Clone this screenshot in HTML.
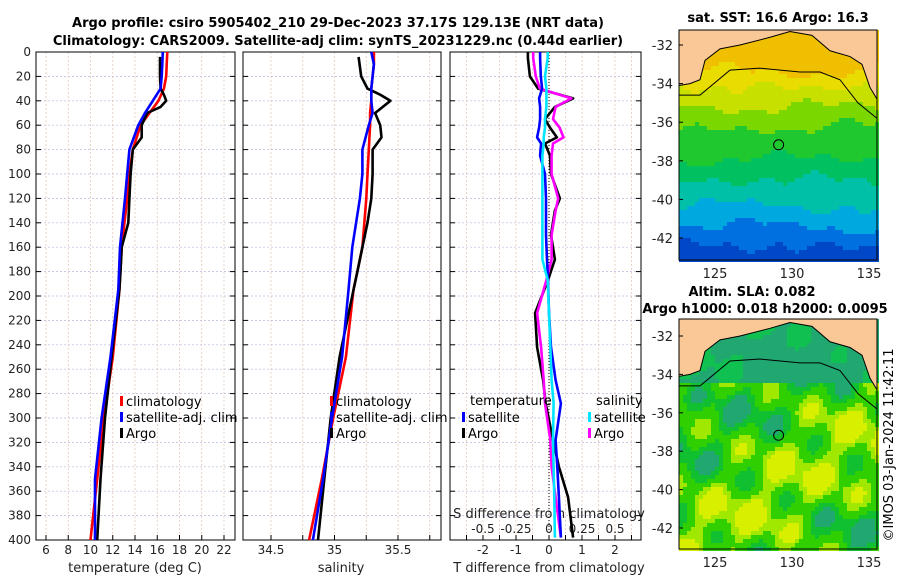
<!DOCTYPE html>
<html><head><meta charset="utf-8"><style>
body{margin:0;background:#fff;}
svg{font-family:"DejaVu Sans","Liberation Sans",sans-serif;}
</style></head><body>
<svg id="fig" width="900" height="580" viewBox="0 0 900 580">
<g id="titles" font-weight="bold" font-size="13" text-anchor="middle" fill="#000">
<text x="338" y="27">Argo profile: csiro 5905402_210 29-Dec-2023 37.17S 129.13E (NRT data)</text>
<text x="338" y="45">Climatology: CARS2009. Satellite-adj clim: synTS_20231229.nc (0.44d earlier)</text>
<text x="778" y="22">sat. SST: 16.6 Argo: 16.3</text>
<text x="752" y="296">Altim. SLA: 0.082</text>
<text x="765" y="313">Argo h1000: 0.018 h2000: 0.0095</text>
</g>
<g id="panels"></g>
<g id="maps"></g>
<text transform="translate(893,445) rotate(-90)" text-anchor="middle" font-size="13">©IMOS 03-Jan-2024 11:42:11</text>
</svg>
<script>
// ---------- data ----------
const tDepth   = [0,10,20,30,40,50,60,80,100,120,160,195,250,300,350,400];
const tClim    = [16.9,16.85,16.8,16.6,16.1,15.3,14.5,13.8,13.5,13.3,12.8,12.6,12.0,11.2,10.6,10.0];
const tSat     = [16.5,16.45,16.4,16.3,15.6,14.9,14.3,13.5,13.3,13.1,12.65,12.5,11.8,11.0,10.4,10.4];
const argoDepth= [4,20,30,35,40,45,50,60,70,80,100,120,140,160,180,195,250,300,350,400];
const tArgo    = [16.25,16.25,16.3,16.6,16.8,16.3,15.1,14.6,14.6,13.8,13.6,13.5,13.4,12.8,12.7,12.6,11.9,11.3,10.9,10.6];
const sClim    = [35.31,35.31,35.30,35.29,35.29,35.28,35.28,35.27,35.26,35.25,35.22,35.15,35.09,34.99,34.90,34.80];
const sSat     = [35.29,35.31,35.30,35.29,35.29,35.30,35.27,35.22,35.22,35.20,35.14,35.11,35.06,34.98,34.91,34.83];
const sArgo    = [35.19,35.21,35.26,35.36,35.44,35.38,35.32,35.36,35.37,35.30,35.30,35.29,35.26,35.22,35.18,35.15,35.04,34.97,34.92,34.87];
const dDepth   = [0,5,20,30,38,45,55,62,70,75,85,100,120,130,150,170,187,214,242,269,288,318,340,365,398];
const dTArgo   = [-0.64,-0.64,-0.58,-0.33,0.73,0.18,-0.12,0.03,0.24,-0.12,0.03,0.06,0.33,0.18,0.06,0.18,-0.03,-0.42,-0.36,-0.18,-0.10,0.12,0.30,0.58,0.73];
const dTSat    = [-0.27,-0.27,-0.25,-0.21,-0.30,-0.27,-0.27,-0.30,-0.36,-0.24,-0.27,-0.12,-0.09,-0.09,-0.09,-0.06,-0.03,0.0,0.06,0.20,0.36,0.20,0.25,0.30,0.36];
const dSArgo   = [-0.12,-0.12,-0.10,-0.07,0.17,0.05,0.03,0.08,0.11,0.03,0.02,0.02,0.07,0.05,0.02,0.02,-0.02,-0.09,-0.06,-0.04,-0.03,0.01,0.02,0.05,0.09];
const dSSat    = [-0.01,-0.01,-0.03,-0.02,-0.02,-0.02,-0.03,-0.03,-0.04,-0.04,-0.05,-0.05,-0.05,-0.05,-0.05,-0.05,-0.01,0.0,0.01,0.02,0.035,0.03,0.035,0.04,0.045];
const depthTicks = [0,20,40,60,80,100,120,140,160,180,200,220,240,260,280,300,320,340,360,380,400];
const tTicks = [6,8,10,12,14,16,18,20,22];
const sTicks = [34.5,35,35.5];
const dTTicks = [-2,-1,0,1,2];
const dSTicks = [-0.5,-0.25,0,0.25,0.5];
const latTicks = [-32,-34,-36,-38,-40,-42];
const lonTicks = [125,130,135];

const NS="http://www.w3.org/2000/svg";
function mk(tag,attrs,parent){const e=document.createElementNS(NS,tag);for(const k in attrs)e.setAttribute(k,attrs[k]);parent.appendChild(e);return e;}
const P=document.getElementById('panels');
const yD=d=>52+d*1.22;
const xT=v=>46+(v-6)*11.125;
const xS=v=>271+(v-34.5)*127;
const xDT=v=>549+v*33;
const xDS=v=>549+v*132;
const panels=[[36,235],[243,441],[450,641]];

panels.forEach((p,i)=>{
  const g=mk('g',{},P);
  
  
  depthTicks.forEach(d=>{
    const l=mk('line',{x1:p[0],x2:p[1],y1:yD(d),y2:yD(d),stroke:'#b8b8e0','stroke-width':0.7,'stroke-dasharray':'2,2'},g);
    
    
    mk('line',{x1:p[0],x2:p[0]+5,y1:yD(d),y2:yD(d),stroke:'#000'},g);
    mk('line',{x1:p[1]-5,x2:p[1],y1:yD(d),y2:yD(d),stroke:'#000'},g);
  });
  const xs = i==0?tTicks.map(xT):i==1?[34.25,34.5,34.75,35,35.25,35.5,35.75].map(xS):[-2.5,-2,-1.5,-1,-0.5,0,0.5,1,1.5,2,2.5].map(xDT);
  xs.forEach(x=>{ if(x>p[0]&&x<p[1]){
    mk('line',{x1:x,x2:x,y1:52,y2:540,stroke:'#e0c0b0','stroke-width':0.7,'stroke-dasharray':'2,2'},g);
    mk('line',{x1:x,x2:x,y1:540,y2:535,stroke:'#000'},g);
  }});
  const r=mk('rect',{x:p[0],y:52,width:p[1]-p[0],height:488,fill:'none',stroke:'#000','stroke-width':1},g);
  
  
});
mk('line',{x1:549,x2:549,y1:52,y2:540,stroke:'#000','stroke-width':1,'stroke-dasharray':'1,2'},P);

const TL=mk('g',{'font-size':12,fill:'#222'},P);
depthTicks.forEach(d=>{const t=mk('text',{x:31,y:yD(d)+4,'text-anchor':'end'},TL);t.textContent=d;
  
  });
tTicks.forEach(v=>{const t=mk('text',{x:xT(v),y:554,'text-anchor':'middle'},TL);t.textContent=v;
  
  });
sTicks.forEach(v=>{const t=mk('text',{x:xS(v),y:554,'text-anchor':'middle'},TL);t.textContent=v;
  
  });
dTTicks.forEach(v=>{const t=mk('text',{x:xDT(v),y:554,'text-anchor':'middle'},TL);t.textContent=v;
  
  });
dSTicks.forEach(v=>{const t=mk('text',{x:xDS(v),y:533,'text-anchor':'middle'},TL);t.textContent=v;
  
  });
[[135,'temperature (deg C)','x-axis-title-temperature'],[341,'salinity','x-axis-title-salinity'],[549,'T difference from climatology','x-axis-title-t-diff']].forEach(a=>{
  const t=mk('text',{x:a[0],y:572,'text-anchor':'middle','font-size':13,fill:'#222'},P);t.textContent=a[1];
  
  });
{const t=mk('text',{x:549,y:518,'text-anchor':'middle','font-size':13,fill:'#222'},P);t.textContent='S difference from climatology';
  
  }

function line(depths,vals,fx,color,name){
  const pts=depths.map((d,i)=>fx(vals[i]).toFixed(1)+','+yD(d).toFixed(1)).join(' ');
  const l=mk('polyline',{points:pts,fill:'none',stroke:color,'stroke-width':2.6,'stroke-linejoin':'round'},P);
  
  
}
line(tDepth,tClim,xT,'#ff0000','temp-climatology-line');
line(argoDepth,tArgo,xT,'#000','temp-argo-line');
line(tDepth,tSat,xT,'#0000ff','temp-satellite-line');
line(tDepth,sClim,xS,'#ff0000','sal-climatology-line');
line(argoDepth,sArgo,xS,'#000','sal-argo-line');
line(tDepth,sSat,xS,'#0000ff','sal-satellite-line');
line(dDepth,dTArgo,xDT,'#000','tdiff-argo-line');
line(dDepth,dSArgo,xDS,'#ff00ff','sdiff-argo-line');
line(dDepth,dTSat,xDT,'#0000ff','tdiff-satellite-line');
line(dDepth,dSSat,xDS,'#00e5ff','sdiff-satellite-line');

function leg(x,y,color,label){
  const g=mk('g',{},P);
  
  
  mk('rect',{x:x,y:y-9,width:3,height:10,fill:color},g);
  const t=mk('text',{x:x+6,y:y+1,'font-size':13,fill:'#000'},g);t.textContent=label;
}
leg(120,405,'#ff0000','climatology');leg(120,421,'#0000ff','satellite-adj. clim');leg(120,437,'#000','Argo');
leg(330,405,'#ff0000','climatology');leg(330,421,'#0000ff','satellite-adj. clim');leg(330,437,'#000','Argo');
{const t=mk('text',{x:470,y:405,'font-size':13},P);t.textContent='temperature';
 
 const u=mk('text',{x:596,y:405,'font-size':13},P);u.textContent='salinity';
 }
leg(462,421,'#0000ff','satellite');leg(462,437,'#000','Argo');
leg(588,421,'#00e5ff','satellite');leg(588,437,'#ff00ff','Argo');

// ---------- maps ----------
const M=document.getElementById('maps');
function map(y0,y1,latY,kind,name){
  const x0=679,x1=877;
  const lonX=l=>715+(l-125)*15.4;
  const latP=latY;
  const g=mk('g',{},M);
  
  
  const cw=4,ch=4;
  for(let y=y0;y<y1;y+=ch){
    const lat=-32-(y-latP(-32))/((latP(-42)-latP(-32))/10);
    for(let x=x0;x<x1;x+=cw){
      const n=Math.sin(x*0.13+y*0.07)*0.5+Math.sin(x*0.041-y*0.093)*0.6+Math.cos(x*0.021+y*0.031)*0.5;
      let c;
      if(kind==='sst'){
        const v=lat+n*0.35;
        c=v>-33.2?'#f0c000':v>-34?'#e8dc00':v>-35?'#c8e000':v>-36.2?'#7ad800':v>-37.8?'#20c830':v>-39?'#00c060':v>-40.3?'#00c0a8':v>-41.3?'#00a8e0':v>-42.3?'#0070e0':'#0048c8';
      } else {
        if(lat>-34.3) c=n>0.3?'#10c050':'#20a870';
        else c=n>0.7?'#d8f000':n>0.25?'#a0e800':n>-0.4?'#30d000':n>-0.9?'#10c030':'#20a870';
      }
      mk('rect',{x:x,y:y,width:cw,height:ch,fill:c},g);
    }
  }
  const land=`M${x0},${y0} L${x1},${y0} L${x1},${latP(-34.8)} L870,${latP(-34.2)} L862,${latP(-33)} L850,${latP(-32.6)} L830,${latP(-32.3)} L812,${latP(-31.5)} L790,${latP(-31.3)} L770,${latP(-31.6)} L740,${latP(-32.0)} L720,${latP(-32.2)} L705,${latP(-32.8)} L700,${latP(-33.8)} L690,${latP(-34.0)} L679,${latP(-34.1)} Z`;
  const lp=mk('path',{d:land,fill:'#fac896',stroke:'#000','stroke-width':1},g);
  
  
  const iso=`M679,${latP(-34.6)} L700,${latP(-34.6)} L730,${latP(-33.3)} L760,${latP(-33.2)} L800,${latP(-33.4)} L820,${latP(-33.4)} L840,${latP(-33.8)} L858,${latP(-35.0)} L877,${latP(-35.8)}`;
  mk('path',{d:iso,fill:'none',stroke:'#000','stroke-width':1},g);
  const c=mk('circle',{cx:lonX(129.13),cy:latP(-37.17),r:5,fill:'none',stroke:'#000','stroke-width':1},g);
  
  
  mk('rect',{x:x0,y:y0,width:x1-x0,height:y1-y0,fill:'none',stroke:'#000'},g);
  latTicks.forEach(la=>{const t=mk('text',{x:x0-6,y:latP(la)+5,'text-anchor':'end','font-size':13,fill:'#222'},g);t.textContent=la;
    
    mk('line',{x1:x0,x2:x0+4,y1:latP(la),y2:latP(la),stroke:'#000'},g);});
  lonTicks.forEach(lo=>{const t=mk('text',{x:lonX(lo),y:y1+18,'text-anchor':'middle','font-size':13,fill:'#222'},g);t.textContent=lo;
    });
}
map(30,260,la=>45+(-32-la)*19.3,'sst','sst-map');
map(319,549,la=>336+(-32-la)*19.2,'sla','sla-map');
</script>
</body></html>
